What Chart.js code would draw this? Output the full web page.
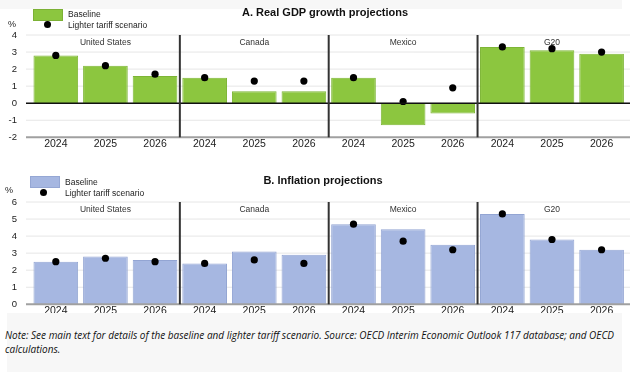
<!DOCTYPE html>
<html lang="en">
<head>
  <meta charset="UTF-8">
  <title>Real GDP growth and inflation projections</title>
  <script src="https://cdn.jsdelivr.net/npm/chart.js"></script>
  <style>
    body { margin: 0; background: #fff; font-family: "Liberation Sans", Arial, sans-serif; }
    .page { position: relative; width: 638px; height: 372px; overflow: hidden; }
    .band { position: absolute; background: #f7f7f7; }
    .clip { position: absolute; left: 0; width: 630px; overflow: hidden; }
    .box { position: relative; width: 630px; height: 157px; }
    .title { position: absolute; font-weight: bold; font-size: 11px; color: #111; white-space: nowrap; transform: translateX(-50%); }
    .lg { position: absolute; font-size: 8.5px; color: #222; white-space: nowrap; }
    .swatch { position: absolute; width: 28px; height: 10px; }
    .dot { position: absolute; width: 7px; height: 7px; border-radius: 50%; background: #000; }
    .pct { position: absolute; font-size: 9px; color: #222; }
    .note { position: absolute; left: 5px; top: 328px; width: 625px; font-family: "Open Sans", sans-serif; font-style: italic; font-size: 10px; line-height: 14px; color: #111; }
  </style>
</head>
<body>
<div class="page">
  <div class="band" style="left:0;top:0;width:622px;height:9px"></div>
  <div class="band" style="left:7px;top:313px;width:615px;height:59px"></div>

  <div class="clip" style="top:0;height:157px"><div class="box"><canvas id="gdpChart"></canvas></div></div>
  <div class="title" style="left:325px;top:6px">A. Real GDP growth projections</div>
  <div class="swatch" style="left:33px;top:9px;background:#8cc63f;border:1px solid #7cb135"></div>
  <div class="lg" style="left:68px;top:9px">Baseline</div>
  <div class="dot" style="left:44px;top:21px"></div>
  <div class="lg" style="left:68px;top:20px">Lighter tariff scenario</div>
  <div class="pct" style="left:8px;top:19px">%</div>

  <div class="clip" style="top:167px;height:146px"><div class="box"><canvas id="inflChart"></canvas></div></div>
  <div class="title" style="left:323px;top:174px">B. Inflation projections</div>
  <div class="swatch" style="left:30px;top:176px;background:#a6b7e1;border:1px solid #95a7d4"></div>
  <div class="lg" style="left:65px;top:177px">Baseline</div>
  <div class="dot" style="left:40px;top:189px"></div>
  <div class="lg" style="left:65px;top:188px">Lighter tariff scenario</div>
  <div class="pct" style="left:5px;top:185px">%</div>

  <div class="note">Note: See main text for details of the baseline and lighter tariff scenario. Source: OECD Interim Economic Outlook 117 database; and OECD calculations.</div>
</div>

<script>
  const countries = ["United States", "Canada", "Mexico", "G20"];
  const years = ["2024", "2025", "2026"];
  const labels = countries.flatMap(() => years);

  // real GDP growth, %
  const gdpBaseline = [2.8, 2.2, 1.6, 1.5, 0.7, 0.7, 1.5, -1.3, -0.6, 3.3, 3.1, 2.9];
  const gdpLighter  = [2.8, 2.2, 1.7, 1.5, 1.3, 1.3, 1.5, 0.1, 0.9, 3.3, 3.2, 3.0];
  const gdpTicks = [-2, -1, 0, 1, 2, 3, 4];

  // inflation, %
  const inflBaseline = [2.5, 2.8, 2.6, 2.4, 3.1, 2.9, 4.7, 4.4, 3.5, 5.3, 3.8, 3.2];
  const inflLighter  = [2.5, 2.7, 2.5, 2.4, 2.6, 2.4, 4.7, 3.7, 3.2, 5.3, 3.8, 3.2];
  const inflTicks = [0, 1, 2, 3, 4, 5, 6];

  // grid lines, zero line, country dividers and names
  const panelPlugin = {
    id: "panel",
    beforeDatasetsDraw(chart, args, opts) {
      const { ctx, chartArea, scales } = chart;
      const x0 = chartArea.left - 5, x1 = chartArea.right + 6;
      ctx.save();
      opts.ticks.forEach(t => {
        const y = scales.y.getPixelForValue(t);
        if (t === opts.ticks[0]) return;
        ctx.strokeStyle = "#e6e6e6";
        ctx.lineWidth = 1;
        ctx.beginPath(); ctx.moveTo(x0, y); ctx.lineTo(x1, y); ctx.stroke();
      });
      ctx.restore();
    },
    afterDatasetsDraw(chart, args, opts) {
      const { ctx, chartArea, scales } = chart;
      const x0 = chartArea.left - 5, x1 = chartArea.right + 6;
      ctx.save();
      // bottom axis
      const yb = scales.y.getPixelForValue(opts.ticks[0]);
      ctx.strokeStyle = "#a0a0a0";
      ctx.lineWidth = 2;
      ctx.beginPath(); ctx.moveTo(x0, yb); ctx.lineTo(x1, yb); ctx.stroke();
      if (opts.ticks[0] < 0) {
        const y0 = scales.y.getPixelForValue(0);
        ctx.strokeStyle = "#111";
        ctx.lineWidth = 1.5;
        ctx.beginPath(); ctx.moveTo(x0, y0); ctx.lineTo(x1, y0); ctx.stroke();
      }
      // dividers
      ctx.strokeStyle = "#333";
      ctx.lineWidth = 2;
      for (let i = 1; i < countries.length; i++) {
        const x = (scales.x.getPixelForValue(i * 3 - 1) + scales.x.getPixelForValue(i * 3)) / 2;
        ctx.beginPath(); ctx.moveTo(x, chartArea.top); ctx.lineTo(x, yb); ctx.stroke();
      }
      // country names
      ctx.fillStyle = "#333";
      ctx.font = "8.5px 'Liberation Sans', Arial, sans-serif";
      ctx.textAlign = "center";
      ctx.textBaseline = "middle";
      countries.forEach((c, i) => {
        const x = scales.x.getPixelForValue(i * 3 + 1);
        ctx.fillText(c, x, chartArea.top + opts.nameOffset);
      });
      ctx.restore();
    }
  };

  function makeChart(id, baseline, lighter, ticks, barColor, barBorder, topPad) {
    const yMin = ticks[0], yMax = ticks[ticks.length - 1];
    return new Chart(document.getElementById(id), {
      type: "bar",
      data: {
        labels,
        datasets: [
          {
            type: "line",
            label: "Lighter tariff scenario",
            data: lighter,
            showLine: false,
            pointRadius: 3.6,
            pointHoverRadius: 3.6,
            pointBackgroundColor: "#000",
            pointBorderWidth: 0,
            order: 0
          },
          {
            label: "Baseline",
            data: baseline,
            backgroundColor: barColor,
            borderColor: barBorder,
            borderWidth: 1,
            barPercentage: 0.9,
            categoryPercentage: 1,
            order: 1
          }
        ]
      },
      options: {
        responsive: true,
        maintainAspectRatio: false,
        animation: false,
        layout: { padding: { top: topPad, right: 0, left: 0, bottom: 0 } },
        plugins: {
          legend: { display: false },
          tooltip: { enabled: false },
          panel: { ticks, nameOffset: 8 }
        },
        scales: {
          x: {
            grid: { display: false, drawTicks: false },
            border: { display: false },
            ticks: { color: "#222", font: { size: 10.5, family: "'Liberation Sans', Arial, sans-serif" }, padding: 1, maxRotation: 0, autoSkip: false },
            afterFit(scale) { scale.height = 13; }
          },
          y: {
            min: yMin, max: yMax,
            grid: { display: false, drawTicks: false },
            border: { display: false },
            ticks: { stepSize: 1, color: "#222", font: { size: 9.5, family: "'Liberation Sans', Arial, sans-serif" }, padding: 14 },
            afterFit(scale) { scale.width = 31; }
          }
        }
      },
      plugins: [panelPlugin]
    });
  }

  makeChart("gdpChart", gdpBaseline, gdpLighter, gdpTicks, "#8cc63f", "#7db535", 35);
  makeChart("inflChart", inflBaseline, inflLighter, inflTicks, "#a6b7e1", "#93a5d3", 35);
</script>
</body>
</html>
